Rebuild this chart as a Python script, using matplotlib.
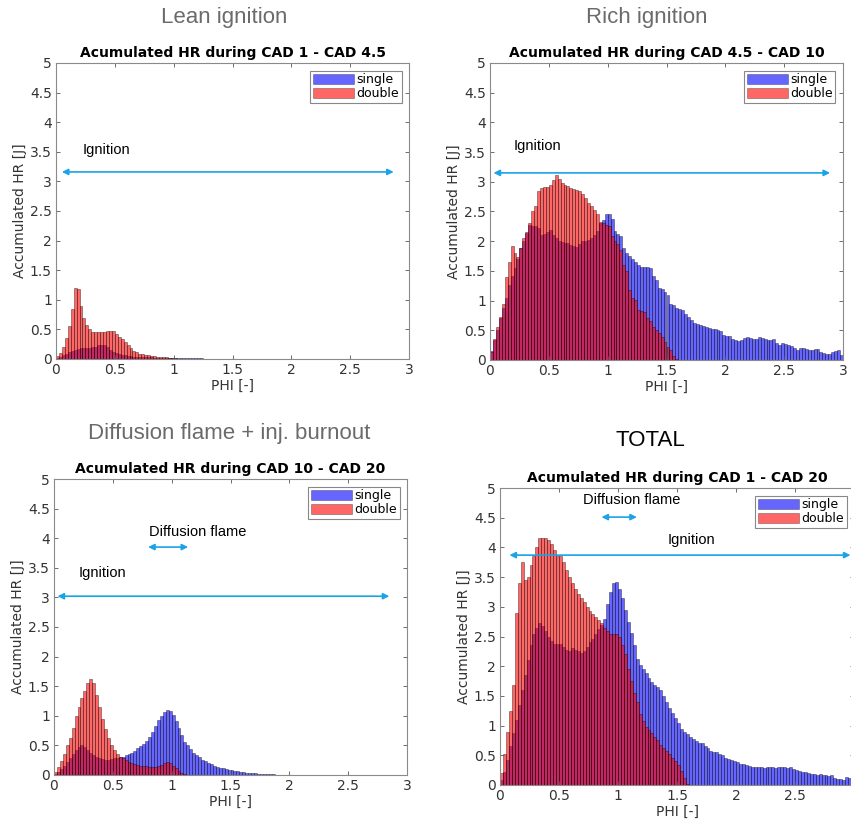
import numpy as np
import matplotlib
matplotlib.use("Agg")
import matplotlib.pyplot as plt
from matplotlib.ticker import FormatStrFormatter

# bin width of the PHI histograms
BIN = 0.025

# Lean ignition, CAD 1 - CAD 4.5
lean_single = [0.02, 0.04, 0.06, 0.09, 0.12, 0.14, 0.16, 0.17, 0.18, 0.19, 0.19, 0.19, 0.2, 0.21, 0.23, 0.24,
               0.23, 0.2, 0.16, 0.12, 0.1, 0.08, 0.07, 0.06, 0.05, 0.05, 0.04, 0.04, 0.04, 0.03, 0.03, 0.03,
               0.03, 0.02, 0.02, 0.02, 0.02, 0.02, 0.02, 0.02, 0.015, 0.015, 0.015, 0.015, 0.015, 0.015,
               0.01, 0.01, 0.01, 0.01]
lean_double = [0.05, 0.1, 0.2, 0.35, 0.55, 0.85, 1.2, 1.18, 0.9, 0.7, 0.58, 0.5, 0.46, 0.45, 0.46, 0.46,
               0.46, 0.48, 0.48, 0.47, 0.43, 0.38, 0.33, 0.28, 0.23, 0.18, 0.14, 0.11, 0.09, 0.08, 0.07,
               0.06, 0.05, 0.05, 0.04, 0.04, 0.03, 0.03, 0.02, 0.02, 0.01]

# Rich ignition, CAD 4.5 - CAD 10
rich_single = [0.15, 0.33, 0.5, 0.7, 0.88, 1.05, 1.27, 1.42, 1.55, 1.7, 1.88, 2.0, 2.13, 2.28, 2.25, 2.25,
               2.22, 2.1, 2.12, 2.15, 2.19, 2.1, 2.05, 2.0, 1.98, 1.97, 1.97, 1.94, 1.92, 1.9, 1.95, 2.0,
               2.01, 2.02, 2.06, 2.1, 2.18, 2.3, 2.35, 2.45, 2.45, 2.38, 2.18, 2.12, 2.08, 1.88, 1.8, 1.75,
               1.7, 1.65, 1.6, 1.57, 1.57, 1.56, 1.55, 1.42, 1.35, 1.22, 1.2, 1.15, 1.1, 0.95, 0.92, 0.87,
               0.86, 0.84, 0.78, 0.73, 0.68, 0.62, 0.6, 0.59, 0.57, 0.56, 0.54, 0.53, 0.52, 0.5, 0.48, 0.42,
               0.41, 0.4, 0.36, 0.34, 0.32, 0.33, 0.37, 0.38, 0.37, 0.35, 0.36, 0.38, 0.37, 0.35, 0.33, 0.34,
               0.35, 0.28, 0.25, 0.29, 0.27, 0.25, 0.23, 0.21, 0.16, 0.2, 0.21, 0.18, 0.17, 0.17, 0.18, 0.19,
               0.14, 0.11, 0.1, 0.1, 0.13, 0.15, 0.16, 0.08]
rich_double = [0.14, 0.35, 0.55, 0.72, 0.95, 1.4, 1.65, 1.92, 1.8, 1.74, 1.88, 2.05, 2.15, 2.3, 2.5, 2.6,
               2.84, 2.9, 2.92, 2.92, 2.95, 3.03, 3.12, 3.05, 2.98, 2.95, 2.93, 2.9, 2.88, 2.86, 2.84, 2.8,
               2.72, 2.65, 2.6, 2.53, 2.45, 2.33, 2.3, 2.28, 2.25, 2.08, 2.0, 1.95, 1.85, 1.6, 1.5, 1.18,
               1.05, 1.01, 0.84, 0.82, 0.8, 0.7, 0.65, 0.56, 0.5, 0.45, 0.38, 0.31, 0.22, 0.17, 0.07, 0.02]

# Diffusion flame + inj. burnout, CAD 10 - CAD 20
diff_single = [0.02, 0.05, 0.1, 0.15, 0.22, 0.28, 0.35, 0.42, 0.47, 0.5, 0.48, 0.42, 0.38, 0.34, 0.31, 0.29,
               0.27, 0.26, 0.26, 0.27, 0.28, 0.29, 0.3, 0.31, 0.33, 0.35, 0.38, 0.41, 0.45, 0.49, 0.53, 0.58,
               0.64, 0.72, 0.82, 0.93, 1.0, 1.06, 1.1, 1.08, 1.02, 0.92, 0.8, 0.68, 0.56, 0.5, 0.44, 0.38,
               0.34, 0.3, 0.26, 0.23, 0.2, 0.18, 0.16, 0.14, 0.12, 0.11, 0.1, 0.09, 0.08, 0.07, 0.06, 0.05,
               0.05, 0.04, 0.04, 0.03, 0.03, 0.02, 0.02, 0.02, 0.01, 0.01, 0.01]
diff_double = [0.05, 0.14, 0.24, 0.36, 0.5, 0.62, 0.8, 1.0, 1.15, 1.3, 1.42, 1.55, 1.62, 1.55, 1.35, 1.15,
               0.95, 0.78, 0.62, 0.5, 0.42, 0.36, 0.31, 0.28, 0.25, 0.22, 0.2, 0.19, 0.17, 0.16, 0.15, 0.15,
               0.14, 0.14, 0.14, 0.15, 0.17, 0.2, 0.22, 0.2, 0.16, 0.11, 0.07, 0.03, 0.01]

# TOTAL, CAD 1 - CAD 20
total_single = [0.08, 0.22, 0.42, 0.65, 0.87, 1.1, 1.35, 1.6, 1.85, 2.1, 2.35, 2.55, 2.65, 2.72, 2.67, 2.6,
                2.5, 2.42, 2.38, 2.37, 2.38, 2.33, 2.28, 2.25, 2.3, 2.28, 2.26, 2.22, 2.25, 2.33, 2.4, 2.45,
                2.55, 2.62, 2.7, 2.8, 3.05, 3.25, 3.4, 3.42, 3.3, 3.15, 2.95, 2.75, 2.56, 2.35, 2.12, 2.02,
                1.95, 1.88, 1.8, 1.74, 1.68, 1.65, 1.6, 1.5, 1.4, 1.3, 1.22, 1.12, 1.05, 0.95, 0.9, 0.86,
                0.8, 0.77, 0.74, 0.71, 0.7, 0.66, 0.62, 0.58, 0.56, 0.55, 0.52, 0.5, 0.46, 0.43, 0.42, 0.4,
                0.38, 0.36, 0.35, 0.34, 0.32, 0.3, 0.3, 0.31, 0.3, 0.29, 0.3, 0.31, 0.3, 0.29, 0.3, 0.31,
                0.3, 0.28, 0.3, 0.27, 0.26, 0.24, 0.22, 0.22, 0.2, 0.18, 0.19, 0.17, 0.18, 0.17, 0.16, 0.15,
                0.17, 0.12, 0.1, 0.1, 0.08, 0.14, 0.12, 0.08]
total_double = [0.2, 0.53, 0.9, 1.24, 1.69, 2.9, 3.4, 3.75, 3.45, 3.5, 3.7, 3.85, 4.0, 4.15, 4.16, 4.15,
                4.12, 4.05, 3.95, 3.85, 3.85, 3.75, 3.62, 3.5, 3.4, 3.3, 3.22, 3.15, 3.08, 3.0, 2.93, 2.88,
                2.82, 2.78, 2.72, 2.65, 2.6, 2.55, 2.55, 2.55, 2.5, 2.35, 2.2, 1.95, 1.75, 1.55, 1.4, 1.2,
                1.08, 0.98, 0.92, 0.87, 0.8, 0.75, 0.68, 0.62, 0.58, 0.53, 0.46, 0.4, 0.34, 0.24, 0.12, 0.02]

W, H = 851, 825
ARROW = '#1aa3e8'


def add_panel(box, single, double, title):
    # box is (left, top, right, bottom) in pixels of the figure
    l, t, r, b = box
    ax = fig.add_axes([l / W, 1 - b / H, (r - l) / W, (b - t) / H])
    xs = np.arange(len(single)) * BIN
    ax.bar(xs, single, width=BIN, align='edge', facecolor=(0, 0, 1, 0.6),
           edgecolor=(0, 0, 0, 0.5), linewidth=0.5, label='single')
    xd = np.arange(len(double)) * BIN
    ax.bar(xd, double, width=BIN, align='edge', facecolor=(1, 0, 0, 0.6),
           edgecolor=(0, 0, 0, 0.5), linewidth=0.5, label='double')
    ax.set_xlim(0, 3)
    ax.set_ylim(0, 5)
    ax.set_xticks(np.arange(0, 3.01, 0.5))
    ax.set_yticks(np.arange(0, 5.01, 0.5))
    ax.xaxis.set_major_formatter(FormatStrFormatter('%g'))
    ax.yaxis.set_major_formatter(FormatStrFormatter('%g'))
    ax.tick_params(direction='in', length=3, width=0.6, top=True, right=True,
                   labelsize=10, colors='#555555', labelcolor='#333333', pad=3)
    for s in ax.spines.values():
        s.set_color('#8a8a8a')
        s.set_linewidth(0.8)
    ax.set_title(title, fontsize=10, fontweight='bold', pad=4)
    ax.set_xlabel('PHI [-]', fontsize=10, color='#333333', labelpad=1)
    ax.set_ylabel('Accumulated HR [J]', fontsize=10, color='#333333', labelpad=2)
    leg = ax.legend(loc='upper right', fontsize=9, handlelength=3.3, handleheight=0.9,
                    handletextpad=0.2, borderpad=0.2, labelspacing=0.1, borderaxespad=0.6,
                    fancybox=False, framealpha=1, edgecolor='#888888')
    leg.get_frame().set_linewidth(0.8)
    for p in leg.get_patches():
        p.set_edgecolor((0, 0, 0, 0.4))
    return ax


def arrow(ax, x0, x1, y):
    ax.annotate('', xy=(x0, y), xytext=(x1, y),
                arrowprops=dict(arrowstyle='<|-|>', color=ARROW, lw=1.2,
                                mutation_scale=9, shrinkA=0, shrinkB=0))


def note(ax, x, y, s):
    ax.text(x, y, s, fontsize=10.5, family='Liberation Sans', va='center', ha='left')


fig = plt.figure(figsize=(W / 100, H / 100), dpi=100)

ax1 = add_panel((56, 63, 409, 359), lean_single, lean_double, 'Acumulated HR during CAD 1 - CAD 4.5')
arrow(ax1, 0.05, 2.87, 3.16)
note(ax1, 0.23, 3.53, 'Ignition')

ax2 = add_panel((490, 63, 843, 360), rich_single, rich_double, 'Acumulated HR during CAD 4.5 - CAD 10')
arrow(ax2, 0.03, 2.89, 3.15)
note(ax2, 0.2, 3.6, 'Ignition')

ax3 = add_panel((54, 479, 407, 775), diff_single, diff_double, 'Acumulated HR during CAD 10 - CAD 20')
arrow(ax3, 0.03, 2.85, 3.02)
note(ax3, 0.21, 3.41, 'Ignition')
arrow(ax3, 0.8, 1.14, 3.85)
note(ax3, 0.81, 4.1, 'Diffusion flame')

ax4 = add_panel((500, 488, 854, 785), total_single, total_double, 'Acumulated HR during CAD 1 - CAD 20')
ax4.set_xticklabels(['0', '0.5', '1', '1.5', '2', '2.5', ''])
arrow(ax4, 0.08, 2.97, 3.87)
note(ax4, 1.42, 4.12, 'Ignition')
arrow(ax4, 0.86, 1.16, 4.51)
note(ax4, 0.7, 4.8, 'Diffusion flame')

# panel headings
fig.text(224 / W, 1 - 17 / H, 'Lean ignition', fontsize=16, color='#6b6b6b',
         family='Liberation Sans', ha='center', va='center')
fig.text(647 / W, 1 - 17 / H, 'Rich ignition', fontsize=16, color='#6b6b6b',
         family='Liberation Sans', ha='center', va='center')
fig.text(229 / W, 1 - 433 / H, 'Diffusion flame + inj. burnout', fontsize=16, color='#6b6b6b',
         family='Liberation Sans', ha='center', va='center')
fig.text(650 / W, 1 - 440 / H, 'TOTAL', fontsize=16, color='black',
         family='Liberation Sans', ha='center', va='center')

fig.savefig('out.png', dpi=100)
